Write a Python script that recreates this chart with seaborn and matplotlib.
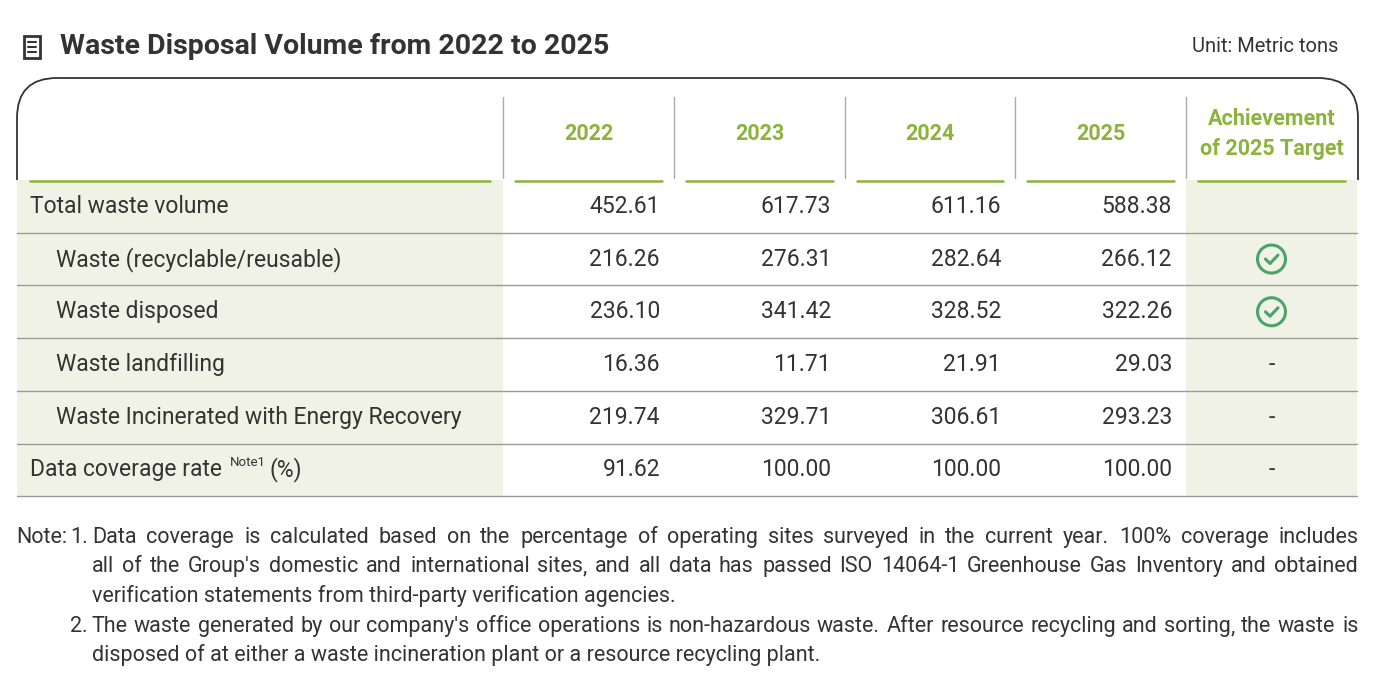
import numpy as np
import matplotlib.pyplot as plt
import seaborn as sns
from matplotlib.patches import Rectangle, Circle
from matplotlib.path import Path
from matplotlib.patches import PathPatch

years = ["2022", "2023", "2024", "2025"]
row_labels = ["Total waste volume", "Waste (recyclable/reusable)", "Waste disposed",
              "Waste landfilling", "Waste Incinerated with Energy Recovery",
              "Data coverage rate"]
row_indent = [0, 1, 1, 1, 1, 0]
values = [
    ["452.61", "617.73", "611.16", "588.38"],
    ["216.26", "276.31", "282.64", "266.12"],
    ["236.10", "341.42", "328.52", "322.26"],
    ["16.36", "11.71", "21.91", "29.03"],
    ["219.74", "329.71", "306.61", "293.23"],
    ["91.62", "100.00", "100.00", "100.00"],
]
achievement = ["", "check", "check", "-", "-", "-"]
notes = [
    ("1.", "Data coverage is calculated based on the percentage of operating sites surveyed in the current year. 100% coverage includes", True),
    ("", "all of the Group's domestic and international sites, and all data has passed ISO 14064-1 Greenhouse Gas Inventory and obtained", True),
    ("", "verification statements from third-party verification agencies.", False),
    ("2.", "The waste generated by our company's office operations is non-hazardous waste. After resource recycling and sorting, the waste is", True),
    ("", "disposed of at either a waste incineration plant or a resource recycling plant.", False),
]

sns.set_theme(style="white")
plt.rcParams['font.family'] = ['Roboto', 'DejaVu Sans']

GREEN = "#8cb33c"
BEIGE = "#f1f2e6"
TXT = "#333333"
LINE = "#9a9a9a"

fig = plt.figure(figsize=(13.84, 6.78), dpi=100)
ax = fig.add_axes([0, 0, 1, 1])
ax.set_xlim(0, 1384)
ax.set_ylim(678, 0)
ax.axis("off")
renderer = fig.canvas.get_renderer()


def text_width(t):
    return t.get_window_extent(renderer=renderer).width


# title
ax.add_patch(Rectangle((24, 36), 16, 22, fill=False, ec=TXT, lw=2))
for yy in (42, 47, 52):
    ax.plot([28, 36], [yy, yy], color=TXT, lw=1.5)
ax.text(60, 47, "Waste Disposal Volume from 2022 to 2025", fontsize=20.5, fontweight="bold",
        color=TXT, va="center", ha="left")
ax.text(1338, 46, "Unit: Metric tons", fontsize=14.5, color=TXT, va="center", ha="right")

# rounded top frame
L, R, T, B, r = 17, 1358, 78, 180, 40
verts = [(L, B), (L, T + r), (L, T), (L + r, T), (R - r, T), (R, T), (R, T + r), (R, B)]
codes = [Path.MOVETO, Path.LINETO, Path.CURVE3, Path.CURVE3, Path.LINETO, Path.CURVE3, Path.CURVE3, Path.LINETO]
ax.add_patch(PathPatch(Path(verts, codes), fill=False, ec=TXT, lw=1.3))

col_edges = [17, 503, 674, 845, 1015, 1186, 1357]
row_top = 180
row_h = 52.7
n = len(row_labels)

ax.add_patch(Rectangle((col_edges[0], row_top), col_edges[1] - col_edges[0], n * row_h, color=BEIGE, lw=0))
ax.add_patch(Rectangle((col_edges[5], row_top), col_edges[6] - col_edges[5], n * row_h, color=BEIGE, lw=0))

headers = years + ["Achievement\nof 2025 Target"]
for j, h in enumerate(headers):
    cx = (col_edges[j + 1] + col_edges[j + 2]) / 2
    ax.text(cx, 134, h, fontsize=15.5, fontweight="bold", color=GREEN, ha="center", va="center",
            linespacing=1.5)
for x in col_edges[1:6]:
    ax.plot([x, x], [97, 178], color="#aaaaaa", lw=1)
ax.plot([30, 490], [181, 181], color=GREEN, lw=1.8)
for j in range(1, 6):
    ax.plot([col_edges[j] + 12, col_edges[j + 1] - 12], [181, 181], color=GREEN, lw=1.8)

FS = 16.5
for i, lab in enumerate(row_labels):
    yc = row_top + (i + 0.5) * row_h
    ax.plot([17, 1357], [row_top + (i + 1) * row_h] * 2, color=LINE, lw=1)
    x0 = 30 + 26 * row_indent[i]
    t = ax.text(x0, yc, lab, fontsize=FS, color=TXT, ha="left", va="center")
    if lab == "Data coverage rate":
        xe = x0 + text_width(t) + 8
        s = ax.text(xe, yc - 7, "Note1", fontsize=9.5, color=TXT, ha="left", va="center")
        ax.text(xe + text_width(s) + 4, yc, "(%)", fontsize=FS, color=TXT, ha="left", va="center")
    for j, v in enumerate(values[i]):
        ax.text(col_edges[j + 2] - 14, yc, v, fontsize=FS, color=TXT, ha="right", va="center")
    cx = (col_edges[5] + col_edges[6]) / 2
    if achievement[i] == "check":
        ax.add_patch(Circle((cx, yc), 14, fill=False, ec="#4aa36a", lw=2.2))
        ax.plot([cx - 6, cx - 1.5, cx + 6.5], [yc, yc + 4.5, yc - 4], color="#4aa36a", lw=2.2,
                solid_capstyle="round", solid_joinstyle="round")
    elif achievement[i] == "-":
        ax.text(cx, yc, "-", fontsize=FS, color=TXT, ha="center", va="center")

# notes, justified: each word placed with the same baseline
NFS = 15.5
x_left, x_right = 92, 1358
ax.text(16, 543, "Note:", fontsize=NFS, color=TXT, ha="left", va="baseline")
for k, (pre, line, justify) in enumerate(notes):
    y = round(543 + k * 29.5)
    if pre:
        ax.text(88, y, pre, fontsize=NFS, color=TXT, ha="right", va="baseline")
    if not justify:
        ax.text(x_left, y, line, fontsize=NFS, color=TXT, ha="left", va="baseline")
        continue
    words = line.split(" ")
    # measure widths with throwaway texts, then draw each word as "word" + trailing punct split
    ws = []
    for w in words:
        tmp = ax.text(0, y, w, fontsize=NFS)
        ws.append(text_width(tmp))
        tmp.remove()
    gap = (x_right - x_left - sum(ws)) / (len(words) - 1)
    x = x_left
    for w, wd in zip(words, ws):
        core = w.rstrip(",")
        t = ax.text(round(x), y, core, fontsize=NFS, color=TXT, ha="left", va="baseline")
        if core != w:
            ax.text(round(x) + text_width(t), y, ",", fontsize=NFS, color=TXT,
                    ha="left", va="baseline")
        x += wd + gap

fig.savefig("out.png", dpi=100)
